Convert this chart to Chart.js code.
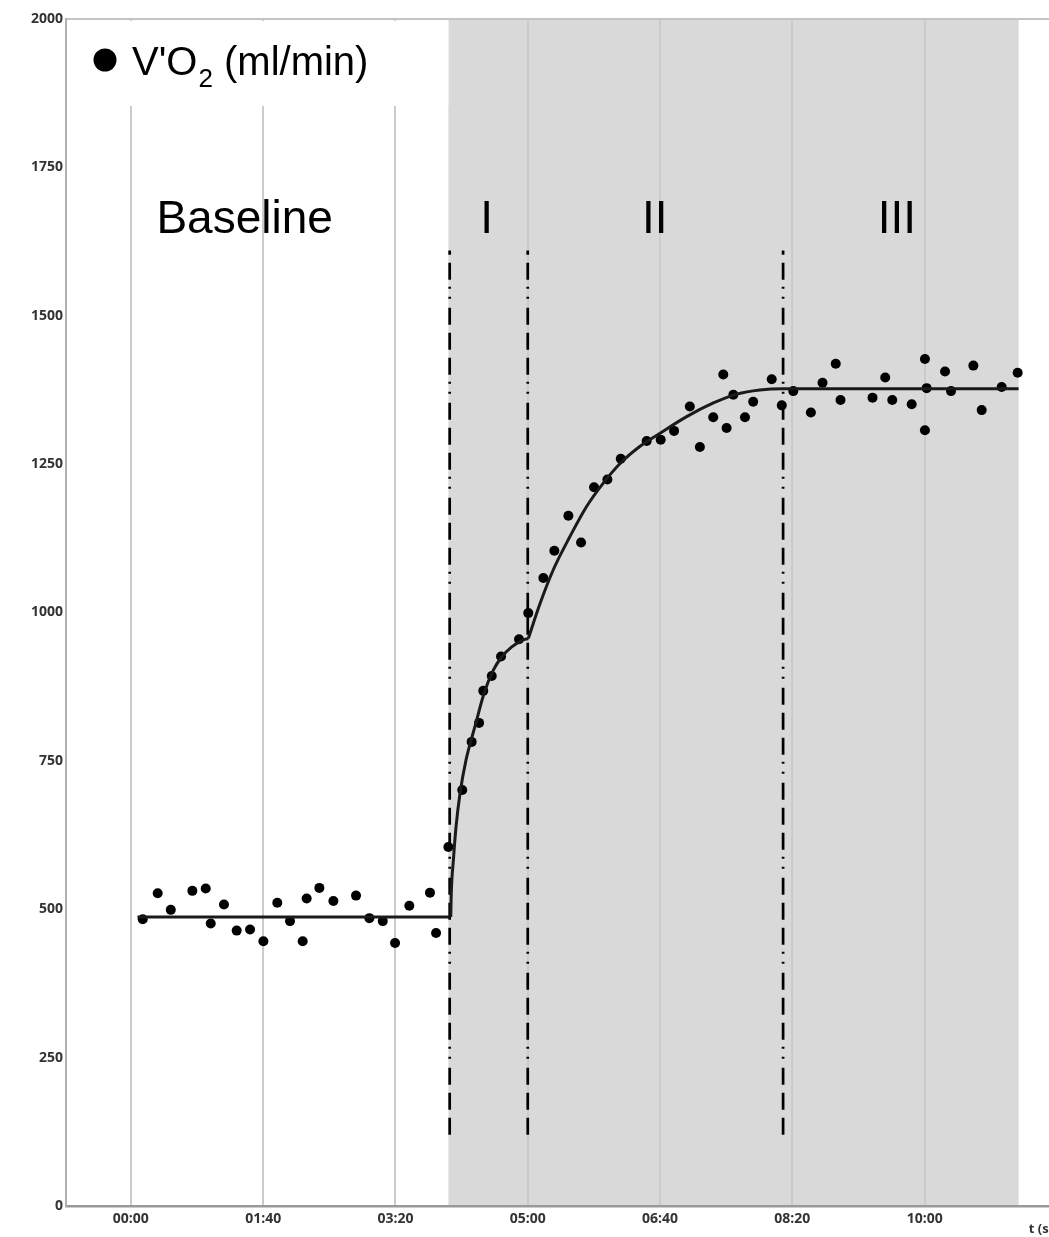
<!DOCTYPE html>
<html>
<head>
<meta charset="utf-8">
<script src="https://cdn.jsdelivr.net/npm/chart.js@4.4.1/dist/chart.umd.min.js"></script>
<style>
  html, body { margin: 0; padding: 0; background: #fff; overflow: hidden; }
  #wrap { position: relative; width: 1058px; height: 1237px; }
</style>
</head>
<body>
<div id="wrap"><canvas id="chart"></canvas></div>
<script>
// axis ticks
const xTickValues = [0, 100, 200, 300, 400, 500, 600];
const xTickLabels = ['00:00', '01:40', '03:20', '05:00', '06:40', '08:20', '10:00'];
const yTickValues = [0, 250, 500, 750, 1000, 1250, 1500, 1750, 2000];

// breath-by-breath V'O2 samples (s, ml/min)
const vo2Time = [
  9, 20.3, 30.2, 46.5, 56.6, 60.4, 70.4, 80, 90.1, 100.2, 110.7, 120.3, 129.9, 132.9,
  142.5, 153.1, 170.2, 180.3, 190.4, 199.7, 210.5, 226.1, 230.7, 240,
  250.5, 257.6, 263.2, 266.4, 272.8, 279.8, 293.4, 300.4, 311.8,
  320.1, 330.7, 340.3, 350.1, 360.2, 370.3, 389.9, 400.5, 410.6, 422.5, 430.1, 440.2,
  447.8, 450.3, 455.4, 464.2, 470.4, 484.4, 492, 500.7,
  514, 522.8, 532.8, 536.4, 560.6, 570.2, 575.5, 590.2, 600.2, 600.2, 601.5, 615.4,
  619.9, 636.8, 643.1, 658.2, 670.3
];
const vo2Values = [
  483, 527, 499, 531, 535, 476, 508, 464, 466, 446, 511, 480, 446, 518,
  536, 514, 523, 485, 480, 443, 506, 528, 460, 605,
  701, 782, 814, 868, 893, 926, 955, 999, 1058,
  1104, 1163, 1118, 1211, 1224, 1259, 1289, 1291, 1306, 1347, 1279, 1329,
  1401, 1311, 1367, 1329, 1355, 1393, 1349, 1373,
  1337, 1387, 1419, 1358, 1362, 1396, 1358, 1351, 1427, 1307, 1378, 1406,
  1373, 1416, 1341, 1380, 1404
];

// fitted model
const baseFitTime = [5, 241];
const baseFitValues = [487, 487];
const phase1FitTime = [241.8, 242.2, 243.8, 245.8, 248.8, 253.3, 260.1, 267, 274, 280.3, 287.9, 296.6, 300.4];
const phase1FitValues = [487, 527, 583, 639, 695, 751, 808, 864, 903, 925, 942, 954, 956];
const phase2FitTime = [300.4, 309.3, 319.3, 331.9, 344.6, 357.1, 369.8, 384.9, 400, 420.1, 440.3, 457.9, 475.5, 493, 580, 671];
const phase2FitValues = [956, 1015, 1072, 1128, 1179, 1218, 1251, 1280, 1302, 1330, 1353, 1368, 1375, 1377, 1377, 1377];

// phase boundaries
const phaseBounds = [241, 300, 493];
const boundRange = [120, 1610];
const shadeRange = [240, 671];

// phase labels
const phaseNames = ['Baseline', 'I', 'II', 'III'];
const phaseLabelX = [86, 269, 396, 579];
const phaseLabelY = 1661;

const toPoints = (xs, ys) => xs.map((x, i) => ({ x, y: ys[i] }));

const fitStyle = {
  type: 'line',
  borderColor: '#1a1a1a',
  borderWidth: 3,
  pointRadius: 0,
  cubicInterpolationMode: 'monotone',
  fill: false
};

const datasets = [
  Object.assign({ label: 'fit baseline', data: toPoints(baseFitTime, baseFitValues) }, fitStyle),
  Object.assign({ label: 'fit I', data: toPoints(phase1FitTime, phase1FitValues) }, fitStyle),
  Object.assign({ label: 'fit II-III', data: toPoints(phase2FitTime, phase2FitValues) }, fitStyle)
];
phaseBounds.forEach((b, i) => {
  datasets.push({
    type: 'line',
    label: 'bound ' + i,
    data: [{ x: b, y: boundRange[0] }, { x: b, y: boundRange[1] }],
    borderColor: '#000',
    borderWidth: 2.7,
    // three dashes, then two dots
    borderDash: [17, 8, 17, 8, 17, 9, 2, 8, 2, 7],
    pointRadius: 0
  });
});
datasets.push({
  type: 'scatter',
  label: "V'O2 (ml/min)",
  data: toPoints(vo2Time, vo2Values),
  backgroundColor: '#000',
  borderWidth: 0,
  pointRadius: 5,
  pointHoverRadius: 5
});

// shaded exercise block + white legend box
const backdrop = {
  id: 'backdrop',
  beforeDraw (chart) {
    const { ctx, chartArea: a, scales: { x } } = chart;
    ctx.save();
    ctx.fillStyle = '#d9d9d9';
    const x0 = x.getPixelForValue(shadeRange[0]);
    const x1 = x.getPixelForValue(shadeRange[1]);
    ctx.fillRect(x0, a.top, x1 - x0, a.bottom - a.top);
    ctx.restore();
  },
  beforeDatasetsDraw (chart) {
    const { ctx, chartArea: a, scales: { x } } = chart;
    ctx.save();
    ctx.fillStyle = '#fff';
    const x0 = x.getPixelForValue(shadeRange[0]);
    ctx.fillRect(a.left + 1, a.top + 2, x0 - a.left - 1, 106 - a.top - 2);
    ctx.restore();
  }
};

// phase labels and the legend entry
const labels = {
  id: 'labels',
  afterDatasetsDraw (chart) {
    const { ctx, chartArea: a, scales: { x, y } } = chart;
    ctx.save();
    ctx.fillStyle = '#000';
    ctx.font = '46px "Liberation Sans", Arial, sans-serif';
    ctx.textAlign = 'center';
    ctx.textBaseline = 'middle';
    phaseNames.forEach((name, i) => {
      ctx.fillText(name, x.getPixelForValue(phaseLabelX[i]), y.getPixelForValue(phaseLabelY));
    });

    // legend: dot + V'O2 (ml/min)
    const lx = a.left + 39;
    const ly = a.top + 41;
    ctx.beginPath();
    ctx.arc(lx, ly, 11.5, 0, Math.PI * 2);
    ctx.fill();
    ctx.textAlign = 'left';
    ctx.textBaseline = 'alphabetic';
    ctx.font = '40px "Liberation Sans", Arial, sans-serif';
    let tx = a.left + 66;
    const base = ly + 15;
    ctx.fillText("V'O", tx, base);
    tx += ctx.measureText("V'O").width + 1;
    ctx.font = '26px "Liberation Sans", Arial, sans-serif';
    ctx.fillText('2', tx, base + 12);
    tx += ctx.measureText('2').width;
    ctx.font = '40px "Liberation Sans", Arial, sans-serif';
    ctx.fillText(' (ml/min)', tx, base);
    ctx.restore();
  }
};

const tickFont = { family: '"Open Sans", sans-serif', size: 14, weight: 'bold' };

new Chart(document.getElementById('chart'), {
  data: { datasets },
  options: {
    responsive: true,
    maintainAspectRatio: false,
    animation: false,
    layout: { padding: { top: 19, left: 0, right: 0, bottom: 0 } },
    plugins: {
      legend: { display: false },
      tooltip: { enabled: false }
    },
    scales: {
      x: {
        type: 'linear',
        min: -49,
        max: 697,
        afterBuildTicks: (s) => { s.ticks = xTickValues.map(v => ({ value: v })); },
        afterFit: (s) => { s.height = 31; },
        ticks: {
          padding: 5,
          color: '#333',
          font: tickFont,
          maxRotation: 0,
          autoSkip: false,
          callback: (v) => xTickLabels[xTickValues.indexOf(v)]
        },
        grid: { color: '#cbcbcb', lineWidth: 2, drawTicks: false },
        border: { display: true, color: '#999', width: 2.5 },
        title: {
          display: true,
          text: 't (s)',
          align: 'end',
          padding: 0,
          color: '#333',
          font: { family: '"Open Sans", sans-serif', size: 13, weight: 'bold' }
        }
      },
      y: {
        type: 'linear',
        min: 0,
        max: 2000,
        afterBuildTicks: (s) => { s.ticks = yTickValues.map(v => ({ value: v })); },
        afterFit: (s) => { s.width = 66; },
        ticks: { padding: 3, color: '#333', font: tickFont, callback: (v) => String(v) },
        grid: {
          drawTicks: false,
          lineWidth: 2,
          color: (c) => (c.tick && c.tick.value === 2000 ? '#c4c4c4' : 'rgba(0,0,0,0)')
        },
        border: { display: true, color: '#b0b0b0', width: 2 }
      }
    }
  },
  plugins: [backdrop, labels]
});
</script>
</body>
</html>
